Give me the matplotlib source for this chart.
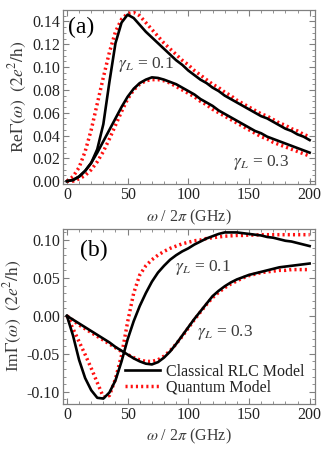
import numpy as np
import matplotlib
matplotlib.use("Agg")
import matplotlib.pyplot as plt
from matplotlib.ticker import MultipleLocator, FormatStrFormatter
from matplotlib.lines import Line2D

plt.rcParams['font.family'] = ['Liberation Serif', 'DejaVu Serif']
plt.rcParams['mathtext.fontset'] = 'stix'

# ---------------- data ----------------
freq = list(range(0, 201, 5))  # omega / 2pi (GHz)

# Panel (a): Re Gamma
re_classical_g01 = [0.000, 0.001, 0.004, 0.009, 0.016, 0.028, 0.050, 0.087, 0.121, 0.139,
                    0.146, 0.143, 0.137, 0.131, 0.126, 0.121, 0.116, 0.111, 0.106, 0.102,
                    0.097, 0.093, 0.089, 0.086, 0.082, 0.079, 0.075, 0.072, 0.069, 0.066,
                    0.063, 0.060, 0.057, 0.055, 0.052, 0.049, 0.046, 0.044, 0.041, 0.039,
                    0.036]
re_quantum_g01 = [0.000, 0.004, 0.012, 0.026, 0.045, 0.068, 0.091, 0.113, 0.131, 0.142,
                  0.147, 0.148, 0.145, 0.139, 0.133, 0.127, 0.121, 0.116, 0.111, 0.106,
                  0.102, 0.097, 0.093, 0.089, 0.085, 0.082, 0.078, 0.075, 0.071, 0.068,
                  0.065, 0.062, 0.059, 0.057, 0.054, 0.051, 0.049, 0.046, 0.044, 0.041,
                  0.039]
re_classical_g03 = [0.000, 0.001, 0.004, 0.009, 0.016, 0.025, 0.035, 0.045, 0.055, 0.065,
                    0.074, 0.081, 0.086, 0.089, 0.091, 0.0905, 0.089, 0.087, 0.085, 0.082,
                    0.079, 0.076, 0.072, 0.069, 0.066, 0.062, 0.059, 0.056, 0.053, 0.050,
                    0.047, 0.044, 0.042, 0.039, 0.037, 0.035, 0.033, 0.031, 0.029, 0.027,
                    0.025]
re_quantum_g03 = [0.000, 0.000, 0.002, 0.005, 0.010, 0.017, 0.026, 0.037, 0.049, 0.061,
                  0.072, 0.080, 0.085, 0.088, 0.089, 0.089, 0.088, 0.086, 0.083, 0.080,
                  0.077, 0.074, 0.070, 0.067, 0.063, 0.060, 0.057, 0.054, 0.051, 0.048,
                  0.045, 0.042, 0.039, 0.037, 0.034, 0.032, 0.030, 0.028, 0.026, 0.024,
                  0.022]

# Panel (b): Im Gamma
im_classical_g01 = [0.000, -0.026, -0.058, -0.082, -0.098, -0.108, -0.109, -0.101, -0.085, -0.060,
                    -0.031, -0.007, 0.013, 0.030, 0.045, 0.057, 0.066, 0.074, 0.080, 0.085,
                    0.089, 0.094, 0.098, 0.102, 0.105, 0.108, 0.110, 0.110, 0.110, 0.109,
                    0.108, 0.107, 0.106, 0.104, 0.103, 0.101, 0.099, 0.098, 0.096, 0.094,
                    0.092]
im_quantum_g01 = [0.000, -0.017, -0.034, -0.051, -0.069, -0.088, -0.107, -0.105, -0.083, -0.052,
                  -0.008, 0.030, 0.054, 0.066, 0.074, 0.080, 0.085, 0.089, 0.092, 0.095,
                  0.097, 0.099, 0.100, 0.102, 0.103, 0.104, 0.105, 0.1055, 0.106, 0.106,
                  0.1065, 0.1065, 0.107, 0.107, 0.107, 0.107, 0.107, 0.107, 0.107, 0.107,
                  0.107]
im_classical_g03 = [0.000, -0.005, -0.010, -0.015, -0.020, -0.025, -0.030, -0.035, -0.041, -0.046,
                    -0.051, -0.056, -0.060, -0.063, -0.064, -0.061, -0.055, -0.047, -0.037, -0.026,
                    -0.015, -0.004, 0.006, 0.016, 0.026, 0.033, 0.039, 0.044, 0.048, 0.051,
                    0.054, 0.056, 0.058, 0.060, 0.062, 0.064, 0.065, 0.066, 0.067, 0.068,
                    0.069]
im_quantum_g03 = [0.000, -0.006, -0.012, -0.017, -0.022, -0.027, -0.032, -0.037, -0.042, -0.047,
                  -0.051, -0.055, -0.058, -0.060, -0.060, -0.058, -0.053, -0.046, -0.037, -0.027,
                  -0.016, -0.005, 0.005, 0.015, 0.024, 0.031, 0.037, 0.042, 0.046, 0.050,
                  0.053, 0.055, 0.057, 0.058, 0.059, 0.060, 0.060, 0.061, 0.061, 0.061,
                  0.061]

legend_labels = ["Classical RLC Model", "Quantum Model"]
re_ticks = [0.00, 0.02, 0.04, 0.06, 0.08, 0.10, 0.12, 0.14]
im_ticks = [-0.10, -0.05, 0.00, 0.05, 0.10]
x_ticks = [0, 50, 100, 150, 200]

# ---------------- figure ----------------
W, H = 326, 453
fig = plt.figure(figsize=(W / 100, H / 100), dpi=100)

def box(l, t, r, b):
    return [l / W, 1 - b / H, (r - l) / W, (b - t) / H]

ax1 = fig.add_axes(box(63.3, 9.5, 314.5, 184))
ax2 = fig.add_axes(box(63.3, 229, 314.5, 403.5))

frame_col = '#808080'
txt_col = '#3c3c3c'
red = '#ff1010'

def style(ax, ymajor, yminor):
    ax.set_xlim(-3, 204)
    ax.xaxis.set_major_locator(MultipleLocator(50))
    ax.xaxis.set_minor_locator(MultipleLocator(10))
    ax.yaxis.set_major_locator(MultipleLocator(ymajor))
    ax.yaxis.set_minor_locator(MultipleLocator(yminor))
    ax.yaxis.set_major_formatter(FormatStrFormatter('%.2f'))
    ax.tick_params(which='both', direction='in', top=True, right=True,
                   color=frame_col, labelsize=11.5, labelcolor='#222222', pad=2.5)
    ax.tick_params(which='major', length=4.5, width=0.8)
    ax.tick_params(which='minor', length=2.5, width=0.6)
    for s in ax.spines.values():
        s.set_color(frame_col)
        s.set_linewidth(0.9)
    ax.set_xlabel(r'$\omega$ / 2$\pi$ (GHz)', fontsize=11.5, color=txt_col, labelpad=3)

lw_c = 1.9
lw_q = 2.5
dot = (0, (0.6, 0.9))

# Panel (a)
ax1.plot(freq, re_quantum_g01, color=red, lw=lw_q, ls=dot, dash_capstyle='butt')
ax1.plot(freq, re_quantum_g03, color=red, lw=lw_q, ls=dot, dash_capstyle='butt')
ax1.plot(freq, re_classical_g01, color='black', lw=lw_c)
ax1.plot(freq, re_classical_g03, color='black', lw=lw_c)
ax1.set_ylim(-0.0025, 0.1505)
style(ax1, 0.02, 0.005)
ax1.set_yticks(re_ticks)
ax1.set_xticks(x_ticks)
ax1.set_ylabel(r'Re$\Gamma(\omega)$  $(2e^2/\mathrm{h})$', fontsize=12.5, color=txt_col, labelpad=2)
ax1.text(0.02, 0.96, '(a)', transform=ax1.transAxes, fontsize=17, va='top', ha='left')
ax1.text(65, 0.102, r'$\gamma_L$ = 0.1', fontsize=12.5, color=txt_col, ha='center', va='center')
ax1.text(160, 0.016, r'$\gamma_L$ = 0.3', fontsize=12.5, color=txt_col, ha='center', va='center')

# Panel (b)
ax2.plot(freq, im_quantum_g01, color=red, lw=lw_q, ls=dot, dash_capstyle='butt')
ax2.plot(freq, im_quantum_g03, color=red, lw=lw_q, ls=dot, dash_capstyle='butt')
ax2.plot(freq, im_classical_g01, color='black', lw=lw_c)
ax2.plot(freq, im_classical_g03, color='black', lw=lw_c)
ax2.set_ylim(-0.1155, 0.1145)
style(ax2, 0.05, 0.01)
ax2.set_yticks(im_ticks)
ax2.set_xticks(x_ticks)
ax2.set_ylabel(r'Im$\Gamma(\omega)$  $(2e^2/\mathrm{h})$', fontsize=12.5, color=txt_col, labelpad=2)
ax2.text(0.065, 0.94, '(b)', transform=ax2.transAxes, fontsize=17, va='top', ha='left')
ax2.text(112, 0.064, r'$\gamma_L$ = 0.1', fontsize=12.5, color=txt_col, ha='center', va='center')
ax2.text(130, -0.0215, r'$\gamma_L$ = 0.3', fontsize=12.5, color=txt_col, ha='center', va='center')

handles = [Line2D([], [], color='black', lw=lw_c),
           Line2D([], [], color=red, lw=lw_q, ls=dot, dash_capstyle='butt')]
leg = ax2.legend(handles, legend_labels, loc='lower right', frameon=False,
                 fontsize=11.5, handlelength=2.2, handletextpad=0.4,
                 borderaxespad=0.2, labelspacing=0.0, bbox_to_anchor=(1.0, -0.01))
for t in leg.get_texts():
    t.set_color('#222222')

fig.savefig('out.png', dpi=100)
